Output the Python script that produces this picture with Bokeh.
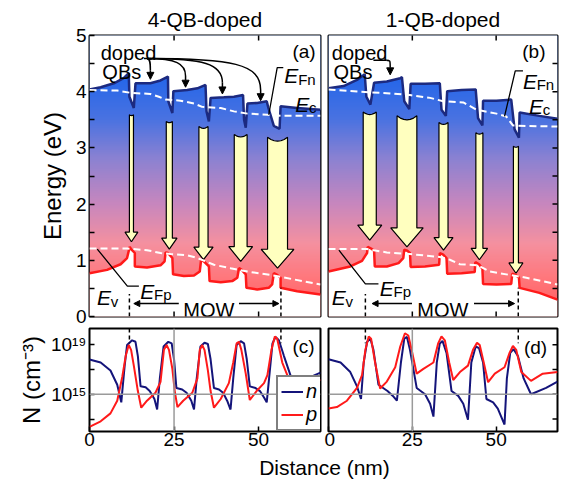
import numpy as np
from bokeh.plotting import figure
from bokeh.models import (Range1d, LinearAxis, FixedTicker, Label, Arrow, NormalHead,
                          Legend, LegendItem, CustomJSTickFormatter, Span)
from bokeh.layouts import column, row
from bokeh.embed import file_html
from bokeh.resources import INLINE

FONT = "Liberation Sans"
XMAX = 68.3

# ---------------- data ----------------
# panel (a): 4-QB-doped band diagram (eV vs nm)
ec_a_x = [0, 3.3, 7.2, 10.1, 11.6, 11.8, 13.1, 13.6, 18.0, 21.0, 23.2, 23.3, 24.5, 24.8, 28.9,
          31.9, 34.3, 34.6, 35.3, 35.8, 39.7, 42.7, 45.4, 45.7, 46.2, 46.7, 49.6, 52.4, 52.9, 54.5,
          56.2, 56.5, 61.4, 68.3]
ec_a_y = [4.04, 4.08, 4.15, 4.24, 4.33, 3.91, 3.71, 4.15, 4.15, 4.20, 4.27, 3.83, 3.62, 4.01, 4.03,
          4.06, 4.12, 3.65, 3.47, 3.89, 3.90, 3.91, 3.94, 3.50, 3.36, 3.79, 3.80, 3.83, 3.71, 3.39,
          3.34, 3.74, 3.71, 3.68]
ev_a_x = [0, 5.2, 9.2, 11.1, 11.9, 12.3, 13.4, 13.4, 17.0, 21.0, 22.2, 22.5, 23.2, 24.5, 24.7,
          27.9, 30.9, 32.6, 33.0, 33.8, 35.3, 35.5, 38.8, 42.2, 43.7, 44.2, 45.0, 46.2, 46.4, 49.6,
          53.0, 54.0, 54.5, 55.5, 56.5, 56.5, 61.4, 68.3]
ev_a_y = [0.77, 0.83, 0.93, 1.04, 1.24, 1.20, 1.13, 0.89, 0.87, 0.91, 0.98, 1.14, 1.13, 1.04, 0.75,
          0.72, 0.73, 0.80, 1.01, 0.98, 0.89, 0.63, 0.61, 0.63, 0.69, 0.86, 0.83, 0.75, 0.51, 0.48,
          0.51, 0.57, 0.77, 0.74, 0.69, 0.51, 0.45, 0.39]
fn_a_x = [0, 8.2, 12.1, 18.0, 20.5, 22.5, 26.9, 30.9, 33.3, 38.8, 42.7, 46.7, 52.6, 56.5, 68.3]
fn_a_y = [4.03, 4.02, 3.98, 3.96, 3.91, 3.86, 3.84, 3.79, 3.73, 3.71, 3.65, 3.61, 3.59, 3.57, 3.57]
fp_a_x = [0, 11.1, 17.0, 21.0, 24.0, 28.9, 31.9, 36.8, 41.7, 46.7, 53.6, 60.4, 68.3]
fp_a_y = [1.21, 1.21, 1.18, 1.13, 1.11, 1.09, 1.04, 0.92, 0.86, 0.80, 0.74, 0.66, 0.57]
# recombination arrows (a): centre (nm), top, tip (eV), width (nm)
arr_a_x = [12.4, 23.6, 33.7, 44.7, 55.6]
arr_a_top = [3.59, 3.47, 3.38, 3.24, 3.19]
arr_a_tip = [1.33, 1.20, 1.01, 0.98, 0.86]
arr_a_w = [1.2, 1.8, 2.7, 3.8, 5.9]

# panel (b): 1-QB-doped band diagram
ec_b_x = [0, 4.5, 8.5, 10.8, 11.3, 12.5, 13.6, 17.4, 21.4, 21.9, 22.6, 24.1, 24.5, 28.8, 33.2,
          33.7, 35.0, 35.4, 39.7, 43.9, 44.6, 45.9, 46.1, 50.1, 54.5, 55.5, 56.8, 57.0, 62.9, 68.3]
ec_b_y = [4.06, 4.10, 4.21, 4.31, 3.91, 3.77, 4.16, 4.18, 4.24, 4.26, 3.83, 3.69, 4.14, 4.14, 4.15,
          3.68, 3.57, 4.01, 4.03, 4.04, 3.53, 3.40, 3.84, 3.84, 3.86, 3.33, 3.18, 3.63, 3.57, 3.52]
ev_b_x = [0, 6.5, 10.0, 11.5, 11.7, 12.7, 13.6, 13.8, 17.4, 20.9, 22.3, 22.6, 23.5, 24.3, 24.5,
          28.8, 33.0, 33.2, 34.2, 35.2, 35.4, 39.7, 43.6, 43.8, 44.9, 45.9, 46.1, 50.1, 54.5, 54.8,
          55.8, 56.8, 57.0, 62.9, 68.3]
ev_b_y = [0.80, 0.89, 0.99, 1.13, 1.24, 1.21, 1.17, 0.89, 0.89, 0.95, 1.04, 1.19, 1.17, 1.13, 0.88,
          0.89, 0.92, 1.13, 1.10, 1.04, 0.76, 0.77, 0.79, 0.97, 0.93, 0.85, 0.58, 0.57, 0.58, 0.76,
          0.74, 0.69, 0.51, 0.42, 0.30]
fn_b_x = [0, 9.5, 18.4, 24.3, 30.3, 34.2, 40.2, 44.1, 50.1, 53.0, 55.0, 59.0, 68.3]
fn_b_y = [4.04, 4.00, 3.97, 3.94, 3.89, 3.83, 3.81, 3.68, 3.61, 3.56, 3.40, 3.39, 3.38]
fp_b_x = [0, 11.5, 17.4, 24.3, 33.2, 36.2, 39.2, 44.6, 48.1, 54.0, 59.0, 68.3]
fp_b_y = [1.20, 1.20, 1.14, 1.11, 1.06, 1.01, 0.93, 0.91, 0.80, 0.74, 0.69, 0.57]
arr_b_x = [12.3, 23.4, 34.3, 45.0, 55.9]
arr_b_top = [3.64, 3.57, 3.45, 3.27, 3.03]
arr_b_tip = [1.36, 1.24, 1.18, 1.01, 0.77]
arr_b_w = [3.9, 5.9, 2.7, 2.1, 1.5]

# panel (c): carrier densities, log10(N / cm^-3)
n_c_x = [0, 3.3, 6.2, 8.2, 9.4, 9.7, 10.4, 11.1, 12.6, 13.6, 14.3, 15.1, 16.6, 17.8, 19.2,
         20.0, 20.8, 21.9, 23.3, 24.3, 25.0, 25.7, 27.4, 28.7, 30.1, 30.9, 31.7, 32.8, 34.0, 35.0,
         35.8, 36.8, 38.3, 39.5, 40.7, 41.7, 42.5, 43.5, 44.7, 45.7, 46.5, 47.4, 49.1, 50.4, 51.6,
         52.4, 53.1, 54.1, 55.0, 56.0, 57.5, 60.2, 64.4, 68.3]
n_c_lg = [17.8, 17.56, 16.92, 15.77, 14.35, 15.25, 17.3, 18.97, 19.35, 19.23, 18.08, 15.64, 15.56, 15.26, 14.62,
          13.77, 16.28, 18.85, 19.23, 19.1, 17.82, 15.5, 15.38, 15.12, 14.48, 13.77, 16.28, 18.85, 19.15, 19.05,
          17.82, 15.5, 15.38, 15.12, 14.48, 13.77, 16.28, 18.97, 19.28, 19.1, 17.82, 15.64, 15.5, 15.26, 14.74,
          14.35, 16.28, 19.1, 19.62, 19.35, 18.08, 15.9, 16.28, 16.75]
p_c_x = [0, 3.3, 6.2, 8.2, 9.7, 10.7, 11.6, 12.3, 13.1, 14.3, 15.3, 17.0, 19.5, 21.0, 22.0,
         22.8, 23.5, 24.5, 25.2, 26.0, 27.7, 30.4, 31.9, 32.6, 33.3, 34.0, 35.0, 35.8, 36.8, 38.8,
         41.2, 42.5, 43.5, 44.2, 44.9, 46.2, 47.4, 49.4, 51.6, 52.6, 53.8, 54.8, 55.5, 57.0, 60.2,
         64.4, 68.3]
p_c_lg = [12.38, 12.82, 13.46, 14.48, 16.41, 18.08, 18.97, 18.58, 17.31, 15.26, 13.92, 14.48, 15.12, 16.0, 18.58,
          18.97, 18.58, 17.05, 15.26, 13.97, 14.48, 15.12, 16.28, 18.58, 18.97, 18.58, 16.92, 15.26, 13.92, 14.62,
          15.9, 17.56, 19.1, 19.23, 18.58, 16.66, 14.54, 15.26, 15.9, 16.54, 18.58, 19.66, 19.48, 17.56, 15.38,
          16.02, 16.15]

# panel (d)
n_d_x = [0, 3.6, 6.5, 8.5, 9.7, 10.5, 11.5, 12.5, 13.4, 14.9, 17.6, 19.2, 20.4, 21.6, 22.6,
         23.4, 24.3, 26.3, 28.8, 30.3, 31.3, 32.3, 33.2, 34.0, 35.2, 36.7, 38.7, 40.2, 41.6, 42.6,
         43.9, 44.9, 46.1, 47.1, 49.1, 50.5, 52.5, 53.2, 54.2, 55.2, 56.5, 58.2, 60.4, 64.9, 68.3]
n_d_lg = [17.82, 17.56, 16.79, 15.64, 14.62, 17.56, 19.23, 19.48, 18.58, 15.77, 15.26, 14.87, 14.48, 17.56, 19.48,
          19.62, 18.58, 15.51, 15.0, 14.23, 13.2, 17.56, 19.1, 19.3, 18.33, 15.26, 14.87, 14.23, 12.95, 17.56,
          18.85, 18.72, 17.56, 14.62, 14.35, 13.85, 12.56, 16.28, 18.33, 18.64, 18.08, 16.28, 15.0, 15.51, 16.02]
p_d_x = [0, 2.5, 5.5, 8.5, 10.0, 11.0, 12.0, 12.7, 13.9, 15.4, 17.4, 19.9, 21.4, 22.8, 23.8,
         24.8, 26.3, 28.3, 31.3, 32.7, 33.7, 34.7, 36.0, 37.2, 39.2, 41.6, 43.1, 44.3, 45.1, 46.3,
         47.6, 49.6, 52.5, 54.0, 55.0, 56.0, 57.5, 60.4, 63.9, 68.3]
p_d_lg = [13.85, 13.97, 14.48, 15.51, 16.54, 18.58, 19.66, 19.48, 17.56, 15.46, 16.02, 17.18, 18.85, 19.92, 19.74,
          18.58, 16.66, 17.05, 17.56, 19.1, 19.66, 19.35, 17.56, 16.15, 16.79, 17.31, 18.58, 19.15, 18.97, 17.56,
          15.97, 16.66, 17.18, 18.33, 18.9, 18.58, 16.79, 16.08, 16.66, 16.79]

# MQW boundaries (nm)
mqw_a = [11.8, 56.6]
mqw_b = [11.0, 56.6]

x_ticks = [0, 25, 50]
e_ticks = [0, 1, 2, 3, 4, 5]
e_minor = [0.5, 1.5, 2.5, 3.5, 4.5]
n_ticks = [1e13, 1e15, 1e17, 1e19]

# ---------------- layout constants (page has no margin: canvas = picture) ----------------
W_LEFT, W_RIGHT = 324, 238
TOP_H, BOT_H, LAB_H = 327, 127, 26
BL, BR_L, BL_R, BR_R = 89, 4, 4, 5
BLACK = "black"


def style_axis(ax):
    ax.axis_line_color = None
    ax.major_tick_in = 5
    ax.major_tick_out = 0
    ax.minor_tick_in = 5
    ax.minor_tick_out = 0
    ax.major_tick_line_width = 1.5
    ax.minor_tick_line_width = 1.5
    ax.major_tick_line_color = BLACK
    ax.minor_tick_line_color = BLACK
    ax.major_label_text_font = FONT
    ax.major_label_text_color = BLACK
    ax.major_label_text_font_size = "19px"
    ax.major_label_standoff = 3
    ax.axis_label_text_font = FONT
    ax.axis_label_text_font_size = "24px"
    ax.axis_label_text_font_style = "normal"
    ax.axis_label_text_color = BLACK


def inner_ticks(p, xs, ys, vertical):
    # short inward tick marks on frame edges that carry no labels
    p.scatter(x=xs, y=ys, marker="dash", size=10, angle=(np.pi / 2 if vertical else 0),
              line_color=BLACK, line_width=1.5)


def gradient_image():
    ny = 250
    E = (np.arange(ny) + 0.5) / ny * 5.0
    sE = [0.0, 0.7, 1.3, 2.0, 2.8, 3.5, 4.4]
    R = [255, 255, 245, 200, 140, 75, 30]
    G = [90, 120, 145, 135, 130, 115, 100]
    B = [90, 125, 160, 190, 210, 225, 235]
    img = np.empty((ny, 1), dtype=np.uint32)
    v = img.view(dtype=np.uint8).reshape((ny, 1, 4))
    v[:, 0, 0] = np.interp(E, sE, R)
    v[:, 0, 1] = np.interp(E, sE, G)
    v[:, 0, 2] = np.interp(E, sE, B)
    v[:, 0, 3] = 255
    return img


def txt(p, x, y, text, size="20px", style="normal", align="left", baseline="alphabetic"):
    p.add_layout(Label(x=x, y=y, text=text, text_font=FONT, text_font_size=size,
                       text_font_style=style, text_align=align, text_baseline=baseline,
                       text_color=BLACK))


def e_label(p, x, y, sub, sy_shift=0.06):
    txt(p, x, y, "E", size="21px", style="italic")
    txt(p, x + 4.1, y - sy_shift, sub, size="15px")


def arrow(p, x0, y0, x1, y1, size=7):
    p.add_layout(Arrow(end=NormalHead(size=size, fill_color=BLACK, line_color=BLACK),
                       x_start=x0, y_start=y0, x_end=x1, y_end=y1,
                       line_color=BLACK, line_width=1.5))


def band_panel(title, ec_x, ec_y, ev_x, ev_y, fn_x, fn_y, fp_x, fp_y,
               ax_, atop, atip, aw, left):
    p = figure(width=W_LEFT if left else W_RIGHT, height=TOP_H,
               x_range=Range1d(0, XMAX), y_range=Range1d(0, 5),
               x_axis_type=None, y_axis_type=None,
               output_backend="svg", toolbar_location=None,
               min_border_left=BL if left else BL_R, min_border_right=BR_L if left else BR_R,
               min_border_top=35, min_border_bottom=11,
               outline_line_color=BLACK, outline_line_width=2, title=title)
    p.title.align = "center"
    p.title.text_font = FONT
    p.title.text_font_size = "21px"
    p.title.text_font_style = "normal"
    p.title.text_color = BLACK
    p.title.standoff = 9

    if left:
        ya = LinearAxis(ticker=FixedTicker(ticks=e_ticks, minor_ticks=e_minor))
        style_axis(ya)
        ya.axis_label = "Energy (eV)"
        ya.axis_label_standoff = 7
        p.add_layout(ya, "left")

    # gradient between the bands
    p.image_rgba(image=[gradient_image()], x=0, y=0, dw=XMAX, dh=5)
    p.varea(x=ec_x, y1=ec_y, y2=5.2, fill_color="white")
    p.varea(x=ev_x, y1=-0.2, y2=ev_y, fill_color="white")

    # recombination arrows
    xs, ys = [], []
    for xc, top, tip, w in zip(ax_, atop, atip, aw):
        hw = 1.25 * w + 2.3
        hl = 0.13 + 0.035 * w
        base = tip + hl
        dip = 0.012 * w
        tx = list(np.linspace(xc - w / 2, xc + w / 2, 7))
        ty = [top - dip * (1 - ((t - xc) / (w / 2)) ** 2) for t in tx]
        xs.append(tx + [xc + w / 2, xc + hw / 2, xc, xc - hw / 2, xc - w / 2])
        ys.append(ty + [base, base, tip, base, base])
    p.patches(xs=xs, ys=ys, fill_color="#ffffbf", line_color=BLACK, line_width=1.2)

    p.line(ec_x, ec_y, line_color="#1c2a80", line_width=2.5)
    p.line(ev_x, ev_y, line_color="#ff1a1a", line_width=2.5)
    p.line(fn_x, fn_y, line_color="white", line_width=2, line_dash="7 4")
    p.line(fp_x, fp_y, line_color="white", line_width=2, line_dash="7 4")

    # unlabeled inward ticks: top and bottom edges, right edge of (b)
    tx = [t for t in x_ticks if t > 0]
    inner_ticks(p, tx + tx, [0] * len(tx) + [5] * len(tx), True)
    if not left:
        ty = e_ticks[1:-1] + e_minor
        inner_ticks(p, [XMAX] * len(ty), ty, False)
    return p


def dens_panel(n_x, n_lg, p_x, p_lg, left):
    p = figure(width=W_LEFT if left else W_RIGHT, height=BOT_H,
               x_range=Range1d(0, XMAX), y_range=Range1d(1e12, 2e20),
               y_axis_type="log", y_axis_location="left" if left else None,
               output_backend="svg", toolbar_location=None,
               min_border_left=BL if left else BL_R, min_border_right=BR_L if left else BR_R,
               min_border_top=1, min_border_bottom=23,
               outline_line_color=BLACK, outline_line_width=2)
    p.grid.grid_line_color = None
    xa = p.xaxis[0]
    xa.ticker = FixedTicker(ticks=x_ticks)
    style_axis(xa)
    xa.major_label_standoff = 1
    if left:
        ya = p.yaxis[0]
        ya.ticker = FixedTicker(ticks=n_ticks)
        style_axis(ya)
        ya.formatter = CustomJSTickFormatter(code="""
            const e = Math.round(Math.log10(tick));
            if (e == 15) return "10\\u00b9\\u2075";
            if (e == 19) return "10\\u00b9\\u2079";
            return "";
        """)
        ya.axis_label = "N (cm\u207b\u00b3)"
        ya.axis_label_standoff = 3
    else:
        inner_ticks(p, [XMAX] * len(n_ticks), n_ticks, False)
    p.add_layout(Span(location=25, dimension="height", line_color="#9a9a9a", line_width=1.5))
    p.add_layout(Span(location=1e15, dimension="width", line_color="#9a9a9a", line_width=1.5))
    rn = p.line(n_x, [10 ** v for v in n_lg], line_color="#14147a", line_width=2)
    rp = p.line(p_x, [10 ** v for v in p_lg], line_color="#ff1a1a", line_width=2)
    return p, rn, rp


# ---------------- panel (a) ----------------
pa = band_panel("4-QB-doped", ec_a_x, ec_a_y, ev_a_x, ev_a_y, fn_a_x, fn_a_y, fp_a_x, fp_a_y,
                arr_a_x, arr_a_top, arr_a_tip, arr_a_w, True)
txt(pa, 3.3, 4.69, "doped")
txt(pa, 3.8, 4.35, "QBs")
txt(pa, 60.0, 4.72, "(a)", size="19px", baseline="middle")
# doped-QB pointers
pa.line([16.1, 17.3], [4.59, 4.59], line_color=BLACK, line_width=1.5)
pa.bezier(x0=17.0, y0=4.59, x1=18.0, y1=4.38, cx0=18.0, cy0=4.59, cx1=18.0, cy1=4.5,
          line_color=BLACK, line_width=1.5)
arrow(pa, 18.0, 4.38, 18.0, 4.22)
for xe, ye, yt in [(28.4, 4.28, 4.08), (39.3, 4.16, 3.96), (50.6, 4.03, 3.84)]:
    pa.bezier(x0=17.0, y0=4.59, x1=xe, y1=ye, cx0=17.0 + 0.75 * (xe - 17.0), cy0=4.59,
              cx1=xe, cy1=4.50, line_color=BLACK, line_width=1.5)
    arrow(pa, xe, ye, xe, yt)
# E_Fn, E_c, E_v, E_Fp labels with leaders
pa.line([57.3, 55.5, 53.0], [4.43, 4.43, 3.59], line_color=BLACK, line_width=1.3)
e_label(pa, 57.6, 4.28, "Fn")
e_label(pa, 60.8, 3.77, "c")
e_label(pa, 2.2, 0.33, "v")
pa.line([2.3, 11.2, 14.6], [1.20, 0.54, 0.54], line_color=BLACK, line_width=1.3)
e_label(pa, 15.0, 0.45, "Fp")
# MQW
for xm, ytop in zip(mqw_a, [0.40, 0.51]):
    pa.line([xm, xm], [0, ytop], line_color=BLACK, line_width=1.5, line_dash="4 3")
txt(pa, 35.3, 0.12, "MQW", align="center")
arrow(pa, 26.4, 0.23, 13.1, 0.23, size=6)
arrow(pa, 44.2, 0.23, 56.0, 0.23, size=6)

# ---------------- panel (b) ----------------
pb = band_panel("1-QB-doped", ec_b_x, ec_b_y, ev_b_x, ev_b_y, fn_b_x, fn_b_y, fp_b_x, fp_b_y,
                arr_b_x, arr_b_top, arr_b_tip, arr_b_w, False)
txt(pb, 1.0, 4.69, "doped")
txt(pb, 1.5, 4.35, "QBs")
txt(pb, 57.8, 4.72, "(b)", size="19px", baseline="middle")
pb.line([13.4, 17.2], [4.56, 4.56], line_color=BLACK, line_width=1.5)
pb.bezier(x0=17.2, y0=4.56, x1=18.4, y1=4.44, cx0=18.4, cy0=4.56, cx1=18.4, cy1=4.56,
          line_color=BLACK, line_width=1.5)
arrow(pb, 18.4, 4.44, 18.4, 4.30)
pb.line([58.0, 55.7, 52.5], [4.37, 4.37, 3.56], line_color=BLACK, line_width=1.3)
e_label(pb, 58.0, 4.19, "Fn")
e_label(pb, 59.8, 3.74, "c")
e_label(pb, 1.0, 0.33, "v")
pb.line([3.1, 11.0, 14.9], [1.18, 0.58, 0.58], line_color=BLACK, line_width=1.3)
e_label(pb, 15.3, 0.50, "Fp")
for xm, ytop in zip(mqw_b, [0.40, 0.51]):
    pb.line([xm, xm], [0, ytop], line_color=BLACK, line_width=1.5, line_dash="4 3")
txt(pb, 34.1, 0.12, "MQW", align="center")
arrow(pb, 24.9, 0.23, 13.0, 0.23, size=6)
arrow(pb, 43.4, 0.23, 55.5, 0.23, size=6)

# ---------------- panels (c), (d) ----------------
pc, rn, rp = dens_panel(n_c_x, n_c_lg, p_c_x, p_c_lg, True)
pdd, _, _ = dens_panel(n_d_x, n_d_lg, p_d_x, p_d_lg, False)
for pp, mq in [(pc, mqw_a), (pdd, mqw_b)]:
    for xm in mq:
        pp.line([xm, xm], [2e20, 1.3e19], line_color=BLACK, line_width=1.5, line_dash="4 3")
txt(pc, 60.0, 10 ** 18.87, "(c)", size="19px", baseline="middle")
txt(pdd, 58.3, 10 ** 18.8, "(d)", size="19px", baseline="middle")

leg = Legend(items=[LegendItem(label="n", renderers=[rn]), LegendItem(label="p", renderers=[rp])],
             location=(187, 0), border_line_color=BLACK, border_line_width=2,
             background_fill_color="white", background_fill_alpha=1.0,
             padding=3, spacing=0, margin=0, glyph_width=22, glyph_height=19,
             label_height=19, label_width=12, label_standoff=3, label_text_font=FONT,
             label_text_font_size="20px", label_text_font_style="italic",
             label_text_color=BLACK)
pc.add_layout(leg)

# ---------------- shared x label ----------------
W_ALL = W_LEFT + W_RIGHT
lab = figure(width=W_ALL, height=LAB_H, x_range=Range1d(0, W_ALL),
             y_range=Range1d(0, LAB_H), x_axis_type=None, y_axis_type=None,
             output_backend="svg", toolbar_location=None, min_border=0, outline_line_color=None)
lab.add_layout(Label(x=324, y=LAB_H / 2, text="Distance (nm)", text_align="center",
                     text_baseline="middle", text_font=FONT, text_font_size="21px",
                     text_color=BLACK))

layout = column(row(pa, pb), row(pc, pdd), lab)
with open("out.html", "w", encoding="utf-8") as f:
    f.write(file_html(layout, INLINE))
